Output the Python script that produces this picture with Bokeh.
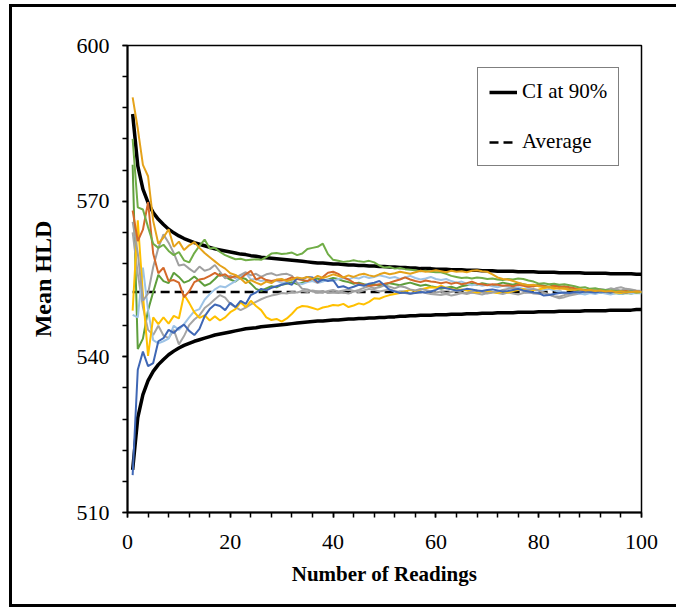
from bokeh.plotting import figure
from bokeh.models import Range1d, FixedTicker, Legend, LegendItem
from bokeh.embed import file_html
from bokeh.resources import INLINE

# ---------------- data ----------------
readings = list(range(1, 101))

ci_upper = [586.8, 576.8, 572.3, 569.7, 567.8, 566.5, 565.5, 564.6, 563.9, 563.3,
            562.8, 562.4, 562.0, 561.7, 561.4, 561.1, 560.8, 560.6, 560.4, 560.2,
            560.0, 559.8, 559.7, 559.5, 559.4, 559.2, 559.1, 559.0, 558.9, 558.8,
            558.7, 558.6, 558.5, 558.4, 558.3, 558.2, 558.1, 558.1, 558.0, 557.9,
            557.9, 557.8, 557.7, 557.7, 557.6, 557.6, 557.5, 557.5, 557.4, 557.4,
            557.3, 557.3, 557.2, 557.2, 557.1, 557.1, 557.0, 557.0, 557.0, 556.9,
            556.9, 556.9, 556.8, 556.8, 556.8, 556.7, 556.7, 556.7, 556.6, 556.6,
            556.6, 556.5, 556.5, 556.5, 556.5, 556.4, 556.4, 556.4, 556.4, 556.3,
            556.3, 556.3, 556.3, 556.2, 556.2, 556.2, 556.2, 556.2, 556.1, 556.1,
            556.1, 556.1, 556.1, 556.0, 556.0, 556.0, 556.0, 556.0, 555.9, 555.9]

ci_lower = [518.2, 528.3, 532.7, 535.4, 537.2, 538.5, 539.5, 540.4, 541.1, 541.7,
            542.2, 542.6, 543.0, 543.3, 543.6, 543.9, 544.2, 544.4, 544.6, 544.8,
            545.0, 545.2, 545.4, 545.5, 545.6, 545.8, 545.9, 546.0, 546.1, 546.2,
            546.3, 546.4, 546.5, 546.6, 546.7, 546.8, 546.9, 546.9, 547.0, 547.1,
            547.1, 547.2, 547.3, 547.3, 547.4, 547.4, 547.5, 547.5, 547.6, 547.6,
            547.7, 547.7, 547.8, 547.8, 547.9, 547.9, 548.0, 548.0, 548.0, 548.1,
            548.1, 548.1, 548.2, 548.2, 548.2, 548.3, 548.3, 548.3, 548.4, 548.4,
            548.4, 548.5, 548.5, 548.5, 548.5, 548.6, 548.6, 548.6, 548.6, 548.7,
            548.7, 548.7, 548.7, 548.8, 548.8, 548.8, 548.8, 548.8, 548.9, 548.9,
            548.9, 548.9, 548.9, 549.0, 549.0, 549.0, 549.0, 549.0, 549.1, 549.1]

average_value = 552.5
average_x = [1, 100]

series_blue = [517.2, 537.5, 541.0, 538.2, 538.8, 543.0, 543.6, 545.2, 544.6, 545.6,
               546.2, 545.0, 544.2, 545.4, 547.8, 549.2, 550.1, 549.8, 549.0, 550.4,
               549.6, 550.8, 550.2, 551.9, 552.4, 553.1, 552.8, 553.3, 553.6, 553.9,
               554.2, 553.9, 555.2, 555.0, 555.4, 555.3, 554.4, 554.9, 554.6, 554.8,
               553.4, 553.6, 553.2, 553.5, 553.9, 553.7, 554.1, 554.3, 554.6, 553.8,
               552.9, 552.6, 552.3, 552.4, 552.2, 552.3, 552.5, 552.4, 552.6, 552.9,
               553.4, 553.2, 553.0, 552.8, 552.9, 553.1, 553.0, 552.8, 552.7, 552.9,
               553.0, 552.8, 552.6, 552.7, 552.9, 553.1, 552.8, 552.6, 552.4, 552.3,
               551.8, 551.9, 552.1, 552.3, 552.4, 552.3, 552.5, 552.4, 552.6, 552.5,
               552.4, 552.6, 552.5, 552.4, 552.6, 552.5, 552.4, 552.6, 552.5, 552.5]

series_orange = [568.2, 562.3, 564.5, 569.8, 559.9, 556.1, 557.2, 554.6, 554.8, 554.3,
                 551.5, 552.6, 554.4, 554.9, 555.1, 555.6, 556.2, 555.6, 555.9, 555.2,
                 555.6, 555.1, 555.9, 556.6, 554.9, 555.3, 554.8, 554.6, 554.8, 554.7,
                 554.9, 555.3, 555.0, 554.8, 554.6, 555.1, 554.3, 555.4, 556.2, 556.4,
                 556.0, 555.3, 554.9, 554.3, 554.1, 553.9, 553.7, 553.8, 554.0, 554.1,
                 554.3, 554.6, 554.9, 555.3, 554.9, 554.6, 554.4, 554.7, 554.5, 554.4,
                 554.2, 554.4, 554.1, 554.3, 554.0, 554.2, 554.5, 554.1, 554.0, 553.8,
                 554.0, 553.9, 553.7, 553.8, 553.6, 553.9, 553.7, 553.5, 553.6, 553.8,
                 553.6, 553.4, 553.7, 553.5, 553.6, 553.4, 553.2, 553.0, 552.9, 552.8,
                 552.7, 552.8, 552.6, 552.7, 552.5, 552.6, 552.7, 552.5, 552.6, 552.5]

series_gray_a = [566.0, 560.0, 550.8, 552.2, 557.3, 561.0, 563.6, 562.0, 560.0, 557.6,
                 557.8, 557.0, 556.3, 557.4, 556.6, 556.9, 557.7, 556.4, 555.1, 555.6,
                 555.2, 555.8, 556.3, 555.7, 556.0, 555.4, 555.9, 556.1, 555.7, 555.9,
                 556.0, 555.6, 554.2, 553.1, 553.0, 552.6, 552.4, 552.7, 552.3, 552.5,
                 552.3, 552.4, 552.2, 552.6, 552.9, 553.3, 553.6, 553.2, 553.4, 553.8,
                 553.5, 553.2, 553.6, 553.4, 553.0, 552.8, 553.1, 552.9, 552.6, 552.4,
                 552.6, 552.3, 552.5, 552.7, 552.4, 552.3, 552.6, 552.8, 552.5, 552.2,
                 552.4, 552.6, 552.9, 553.1, 553.3, 553.0, 552.7, 552.9, 553.1, 552.8,
                 552.4, 552.0, 551.7, 551.6, 551.9, 552.1, 552.3, 552.6, 552.8, 553.0,
                 552.8, 553.1, 552.9, 553.2, 553.0, 552.8, 553.1, 553.0, 552.8, 552.7]

series_gray_b = [564.0, 556.0, 549.6, 545.2, 544.2, 546.0, 544.1, 543.6, 545.2, 542.4,
                 544.0, 546.1, 547.2, 548.0, 549.4, 550.2, 551.1, 551.9, 551.4, 550.2,
                 549.6, 549.0, 549.5, 550.1, 550.6, 551.1, 551.5, 551.8, 552.0, 552.3,
                 552.2, 552.5, 552.4, 552.7, 552.5, 552.8, 552.6, 552.4, 552.7, 552.9,
                 552.6, 552.8, 553.0, 552.7, 552.5, 552.8, 553.1, 552.9, 552.6, 552.8,
                 553.0, 552.7, 552.5, 552.3, 552.1, 552.4, 552.6, 552.3, 552.1, 552.0,
                 551.9, 552.1, 551.8, 552.0, 552.3, 552.1, 552.4, 552.2, 552.0, 552.3,
                 552.5, 552.3, 552.1, 552.4, 552.2, 552.0, 552.3, 552.5, 552.2, 552.1,
                 552.3, 552.0, 551.6, 551.3, 551.5, 551.8, 552.0, 552.2, 552.4, 552.3,
                 552.5, 552.4, 552.6, 552.8, 553.2, 553.4, 553.1, 552.9, 552.7, 552.6]

series_gold = [548.9, 566.3, 552.0, 540.2, 547.6, 546.3, 547.6, 546.4, 547.9, 547.4,
               552.0, 550.4, 548.6, 547.5, 548.0, 547.0, 547.8, 547.0, 547.6, 548.6,
               549.2, 550.5, 549.6, 550.8, 549.8, 549.0, 547.6, 547.1, 547.3, 546.8,
               547.4, 548.3, 549.4, 549.8, 549.7, 549.4, 549.1, 549.5, 549.7, 550.0,
               549.9, 550.2, 549.6, 549.9, 550.3, 550.1, 550.6, 551.3, 551.2, 551.6,
               551.9, 552.1, 552.3, 552.6, 552.9, 552.7, 553.0, 553.2, 553.4, 553.3,
               553.7, 553.3, 553.1, 552.9, 553.0, 552.8, 552.6, 552.4, 552.5, 552.7,
               552.5, 552.3, 552.6, 552.4, 552.7, 552.9, 553.1, 552.8, 552.9, 553.0,
               553.2, 553.4, 553.1, 553.3, 553.1, 552.9, 553.1, 553.0, 552.8, 553.0,
               552.9, 552.7, 552.8, 552.6, 552.4, 552.3, 552.5, 552.6, 552.4, 552.5]

series_lightblue = [548.1, 547.6, 557.2, 549.0, 543.2, 542.6, 543.0, 543.5, 546.0, 545.2,
                    546.3, 547.6, 548.8, 549.2, 551.0, 552.1, 553.0, 553.6, 553.4, 554.0,
                    554.6, 555.4, 556.2, 554.9, 555.0, 554.6, 554.8, 554.4, 554.7, 554.2,
                    554.5, 554.8, 554.3, 554.0, 554.4, 554.6, 554.2, 554.5, 554.9, 554.6,
                    555.0, 555.2, 554.9, 555.3, 555.1, 555.5, 555.2, 555.4, 555.7, 555.5,
                    555.2, 555.4, 555.0, 555.3, 555.6, 555.2, 554.9, 555.1, 555.4, 555.0,
                    554.8, 555.0, 554.6, 554.3, 554.5, 554.1, 553.8, 554.0, 553.7, 553.9,
                    553.6, 553.4, 553.7, 553.5, 553.2, 553.4, 553.1, 553.3, 553.0, 552.8,
                    552.9, 553.1, 552.8, 552.6, 552.3, 552.1, 552.4, 552.2, 552.0, 552.3,
                    552.1, 552.4, 552.2, 552.0, 552.3, 552.1, 552.4, 552.2, 552.3, 552.2]

series_green = [582.0, 568.8, 568.4, 565.0, 561.8, 561.0, 561.6, 560.4, 559.6, 560.2,
                558.6, 558.2, 560.0, 561.4, 562.6, 560.9, 561.0, 560.2, 559.6, 559.2,
                558.8, 558.9, 558.6, 558.7, 558.8, 558.7, 559.2, 559.9, 560.0, 559.8,
                559.9, 560.1, 559.6, 559.9, 560.8, 561.0, 561.2, 561.8, 559.8, 558.7,
                558.5, 558.3, 558.4, 558.6, 558.4, 558.3, 558.5, 558.2, 557.6, 557.2,
                557.3, 557.0, 557.1, 556.9, 556.8, 556.7, 556.5, 556.6, 556.4, 556.3,
                556.3, 556.0, 555.6, 555.4, 555.2, 555.3, 555.1, 555.3, 555.2, 555.0,
                555.1, 554.9, 554.8, 555.0, 554.9, 555.1, 555.0, 554.7, 554.5, 554.1,
                554.2, 554.0, 554.1, 553.9, 554.0, 553.8, 553.6, 553.3, 553.4, 553.1,
                553.2, 553.0, 552.9, 552.8, 552.7, 552.6, 552.5, 552.6, 552.4, 552.5]

series_darkgreen = [577.0, 541.5, 543.5, 549.0, 552.5, 555.8, 554.6, 554.2, 556.2, 555.4,
                    554.3, 554.7, 555.5, 554.6, 553.7, 554.1, 555.0, 556.0, 555.4, 554.9,
                    554.5, 555.3, 555.0, 554.1, 553.1, 552.7, 553.2, 553.6, 553.4, 553.9,
                    554.1, 554.4, 554.0, 554.3, 554.6, 554.9, 555.1, 554.7, 554.9, 555.2,
                    555.0, 554.6, 554.4, 554.1, 554.3, 554.0, 553.8, 554.0, 553.7, 553.9,
                    554.2, 554.0, 553.8, 554.1, 554.3, 554.0, 553.7, 553.9, 553.6, 553.4,
                    553.1, 553.3, 553.5, 553.2, 553.6, 553.8, 554.1, 553.9, 554.2, 554.0,
                    553.8, 554.0, 554.3, 554.1, 553.9, 554.2, 554.0, 553.8, 553.6, 553.9,
                    553.7, 553.5, 553.8, 553.6, 553.3, 553.1, 552.9, 552.7, 552.6, 552.4,
                    552.5, 552.3, 552.4, 552.2, 552.3, 552.1, 552.3, 552.2, 552.4, 552.3]

series_amber = [590.0, 584.0, 577.0, 574.8, 566.2, 561.8, 563.0, 564.6, 561.2, 562.2,
                560.6, 561.5, 562.1, 561.0, 560.0, 559.2, 558.4, 557.6, 557.0, 556.1,
                555.8, 555.1, 554.2, 554.8, 554.3, 553.9, 554.5, 554.2, 554.9, 555.0,
                554.6, 554.9, 555.3, 555.1, 555.4, 555.0, 555.6, 555.2, 555.5, 555.9,
                555.6, 555.3, 555.7, 555.4, 555.8, 556.0, 555.7, 555.5, 555.9, 556.2,
                555.9, 556.1, 556.4, 556.2, 556.0, 556.3, 556.6, 556.4, 556.5, 556.7,
                556.5, 556.3, 556.6, 556.4, 556.5, 556.3, 556.6, 556.7, 556.5, 556.4,
                555.9, 555.3, 555.0, 554.9, 554.6, 554.3, 554.0, 553.8, 553.9, 553.6,
                553.4, 553.5, 553.3, 553.1, 553.2, 553.0, 552.9, 553.1, 552.8, 552.9,
                552.7, 552.8, 552.6, 552.7, 552.5, 552.6, 552.4, 552.5, 552.6, 552.5]

x_major_ticks = [0, 20, 40, 60, 80, 100]
y_major_ticks = [510, 540, 570, 600]

# ---------------- figure ----------------
SERIF = "Liberation Serif"

p = figure(width=676, height=607, output_backend="svg", toolbar_location=None,
           x_range=Range1d(0, 100), y_range=Range1d(510, 600),
           min_border_left=127, min_border_right=35,
           min_border_top=45, min_border_bottom=95)

# outer frame of the picture (left, top and bottom edges), drawn as CSS
# background behind a transparent canvas border
edge = "linear-gradient(#000,#000)"
p.styles = {
    "background": (f"{edge} 9px 4px / 3px 603px no-repeat, "
                   f"{edge} 9px 4px / 667px 3px no-repeat, "
                   f"{edge} 9px 604px / 667px 3px no-repeat, #ffffff"),
}
p.border_fill_alpha = 0
p.background_fill_color = "white"

p.xgrid.visible = False
p.ygrid.visible = False
p.outline_line_color = "black"
p.outline_line_width = 1.5

# axes
p.xaxis.ticker = FixedTicker(ticks=x_major_ticks, minor_ticks=list(range(0, 101, 4)))
p.yaxis.ticker = FixedTicker(ticks=y_major_ticks, minor_ticks=list(range(510, 601, 6)))
for ax in (p.xaxis[0], p.yaxis[0]):
    ax.axis_line_color = "black"
    ax.axis_line_width = 2
    ax.major_tick_line_color = "black"
    ax.minor_tick_line_color = "black"
    ax.major_tick_line_width = 1.5
    ax.minor_tick_line_width = 1.5
    ax.major_tick_in = 0
    ax.major_tick_out = 5
    ax.minor_tick_in = 0
    ax.minor_tick_out = 5
    ax.major_label_text_font = SERIF
    ax.major_label_text_font_size = "22px"
    ax.major_label_text_color = "black"
    ax.axis_label_text_font = SERIF
    ax.axis_label_text_font_style = "bold"
    ax.axis_label_text_color = "black"
p.xaxis.major_label_standoff = 17
p.yaxis.major_label_standoff = 13

p.xaxis.axis_label = "Number of Readings"
p.xaxis.axis_label_text_font_size = "21px"
p.xaxis.axis_label_standoff = 10

p.yaxis.axis_label = "Mean HLD"
p.yaxis.axis_label_text_font_size = "24px"
p.yaxis.axis_label_standoff = 18

# CI and average
r_up = p.line(readings, ci_upper, line_color="black", line_width=3.5)
p.line(readings, ci_lower, line_color="black", line_width=3.5)
r_avg = p.line(average_x, [average_value, average_value], line_color="black",
               line_width=2.5, line_dash="9 5")

# running means
series = [
    (series_darkgreen, "#5E9E3C"),
    (series_gray_b, "#A5A5A5"),
    (series_lightblue, "#9DC3E6"),
    (series_gold, "#FFC000"),
    (series_gray_a, "#A0A0A0"),
    (series_orange, "#D4692A"),
    (series_blue, "#3F67B5"),
    (series_green, "#70AD47"),
    (series_amber, "#E5A21A"),
]
for vals, col in series:
    p.line(readings, vals, line_color=col, line_width=2)

legend = Legend(items=[LegendItem(label="CI at 90%", renderers=[r_up]),
                       LegendItem(label="Average", renderers=[r_avg])],
                location=(350, 346))
legend.label_text_font = SERIF
legend.label_text_font_size = "21px"
legend.label_text_color = "black"
legend.glyph_width = 28
legend.glyph_height = 24
legend.label_height = 24
legend.label_standoff = 5
legend.padding = 11
legend.spacing = 25
legend.margin = 0
legend.border_line_color = "black"
legend.border_line_width = 1.2
legend.background_fill_color = "white"
legend.background_fill_alpha = 1.0
p.add_layout(legend, "center")

open("out.html", "w").write(file_html(p, INLINE))
